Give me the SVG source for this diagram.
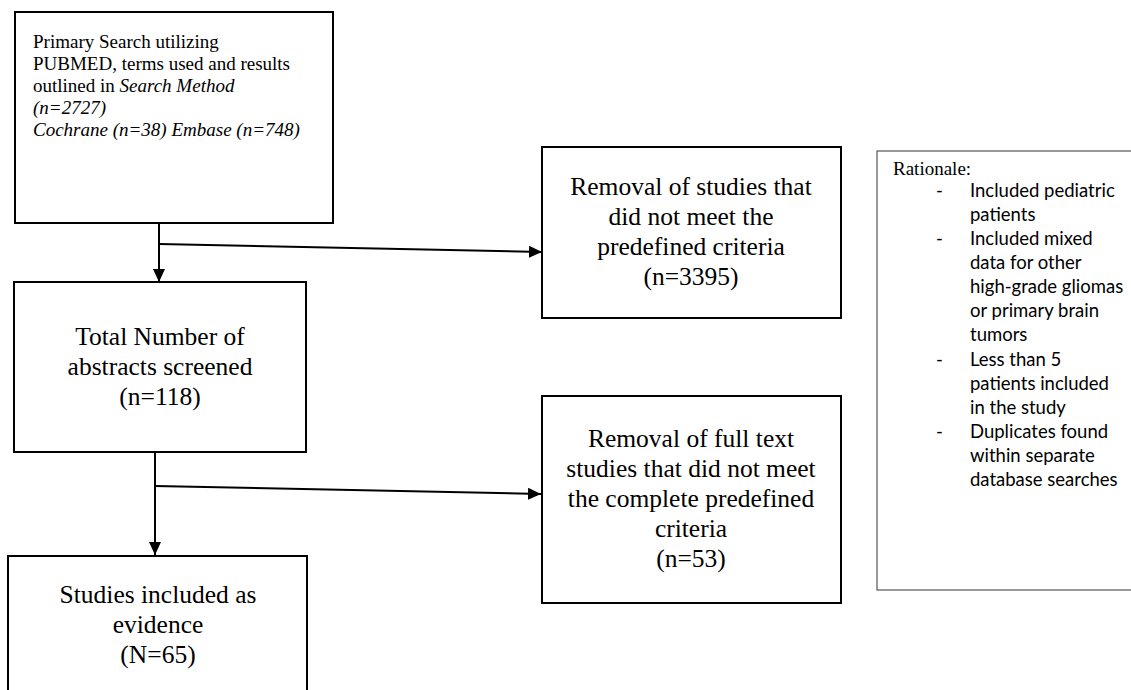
<svg xmlns="http://www.w3.org/2000/svg" width="1131" height="690" viewBox="0 0 1131 690">
<style>
.box{fill:#fff;stroke:#000;stroke-width:2}
.rbox{fill:#fff;stroke:#555;stroke-width:1.2}
.t{font-family:"Liberation Serif","Times New Roman",serif;fill:#000}
.big{font-size:25.5px;text-anchor:middle}
.sm{font-size:19px}
.cal{font-family:Lato,"Open Sans",sans-serif;font-size:18.5px;fill:#000}
.ln{stroke:#000;stroke-width:2;fill:none}
</style>
<defs>
<marker id="ah" markerUnits="userSpaceOnUse" markerWidth="13" markerHeight="12" refX="13" refY="6" orient="auto">
<path d="M0,0 L13,6 L0,12 z" fill="#000"/>
</marker>
</defs>
<rect width="1131" height="690" fill="#fff"/>
<g id="connectors">
<line class="ln" x1="159" y1="224" x2="159" y2="282" marker-end="url(#ah)"/>
<line class="ln" x1="159" y1="244" x2="542" y2="252" marker-end="url(#ah)"/>
<line class="ln" x1="155" y1="452" x2="155" y2="555" marker-end="url(#ah)"/>
<line class="ln" x1="155" y1="486" x2="541" y2="494" marker-end="url(#ah)"/>
</g>
<g id="primary-search">
<rect class="box" x="15" y="12" width="318" height="211"/>
<text class="t sm" x="33" y="48">Primary Search utilizing</text>
<text class="t sm" x="33" y="70">PUBMED, terms used and results</text>
<text class="t sm" x="33" y="92">outlined in <tspan font-style="italic">Search Method</tspan></text>
<text class="t sm" x="33" y="114" font-style="italic">(n=2727)</text>
<text class="t sm" x="33" y="136" font-style="italic">Cochrane (n=38) Embase (n=748)</text>
</g>
<g id="removal-1">
<rect class="box" x="542" y="147" width="299" height="171"/>
<text class="t big" x="691" y="195">Removal of studies that</text>
<text class="t big" x="691" y="225">did not meet the</text>
<text class="t big" x="691" y="255">predefined criteria</text>
<text class="t big" x="691" y="285">(n=3395)</text>
</g>
<g id="abstracts-screened">
<rect class="box" x="14" y="282" width="292" height="170"/>
<text class="t big" x="160" y="345">Total Number of</text>
<text class="t big" x="160" y="375">abstracts screened</text>
<text class="t big" x="160" y="405">(n=118)</text>
</g>
<g id="removal-2">
<rect class="box" x="542" y="396" width="299" height="207"/>
<text class="t big" x="691" y="447">Removal of full text</text>
<text class="t big" x="691" y="477">studies that did not meet</text>
<text class="t big" x="691" y="507">the complete predefined</text>
<text class="t big" x="691" y="537">criteria</text>
<text class="t big" x="691" y="567">(n=53)</text>
</g>
<g id="included">
<rect class="box" x="8" y="556" width="299" height="150"/>
<text class="t big" x="158" y="603">Studies included as</text>
<text class="t big" x="158" y="633">evidence</text>
<text class="t big" x="158" y="663">(N=65)</text>
</g>
<g id="rationale">
<rect class="rbox" x="877" y="151" width="270" height="439"/>
<text class="t sm" x="893" y="175">Rationale:</text>
<g class="cal">
<text x="936" y="197">-</text>
<text x="970" y="197">Included pediatric</text>
<text x="970" y="221">patients</text>
<text x="936" y="245">-</text>
<text x="970" y="245">Included mixed</text>
<text x="970" y="269">data for other</text>
<text x="970" y="293">high-grade gliomas</text>
<text x="970" y="317">or primary brain</text>
<text x="970" y="341">tumors</text>
<text x="936" y="366">-</text>
<text x="970" y="366">Less than 5</text>
<text x="970" y="390">patients included</text>
<text x="970" y="414">in the study</text>
<text x="936" y="438">-</text>
<text x="970" y="438">Duplicates found</text>
<text x="970" y="462">within separate</text>
<text x="970" y="486">database searches</text>
</g>
</g>
</svg>
